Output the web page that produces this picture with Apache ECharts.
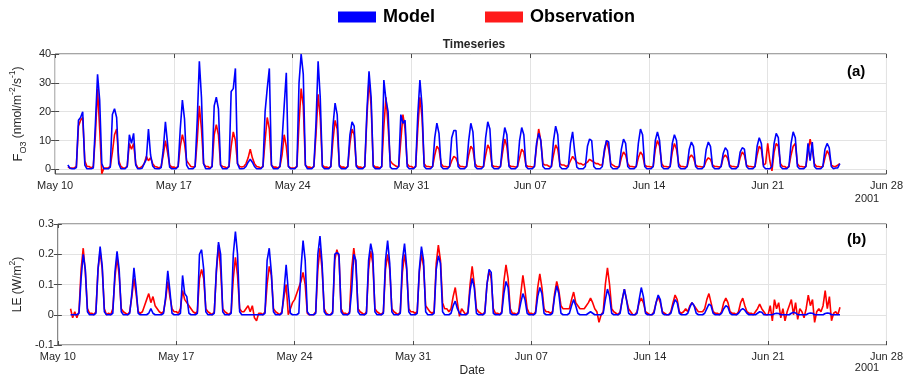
<!DOCTYPE html>
<html><head><meta charset="utf-8">
<script src="https://cdn.jsdelivr.net/npm/echarts@6/dist/echarts.min.js"></script>
<style>html,body{margin:0;padding:0;background:#fff}#c{width:906px;height:381px}</style>
</head><body><div id="c"></div>
<script>
// x tick labels (days since May 10, every 7 days)
const tickLabels = ['May 10','May 17','May 24','May 31','Jun 07','Jun 14','Jun 21','Jun 28'];
const yearLabel = '2001';
// sample hours within each day
const dayHours = [0,3,6,9,12,15,18,21];
const o3Ticks = [0,10,20,30,40];

// (a) O3 flux, Model - one row per day (May 10 .. Jun 25)
const o3Model = [
[1.5,0.4],
[0.2,0.2,0.6,17,18,20,1.5,0.2],
[0.2,0.2,0.5,16,33,24,2,0.2],
[0.2,0.2,0.8,19,21,18,2,0.2],
[0.2,0.2,1,12,9,12.5,1.5,0.2],
[0.2,0.4,2,3.5,14,5,1.2,0.3],
[0.2,0.2,0.6,7,16.5,9,0.8,0.2],
[0.2,0.2,1,14,24,17.5,1.5,0.2],
[0.2,0.2,1,17,37.5,25,2,0.2],
[0.2,0.2,1,22,25,21,1.5,0.2],
[0.2,0.2,1,27,28,35,2,0.2],
[0.2,0.3,1,2.5,3.5,2.5,1,0.2],
[0.2,0.2,1,20,28,35,1.5,0.2],
[0.2,0.2,1,10,22,33.5,1,0.2],
[0.2,0.2,1,30,40,33,1.5,0.2],
[0.2,0.2,1,16,37.5,25,1,0.2],
[0.2,0.2,1,15,23,19,1,0.2],
[0.2,0.2,1,12,16.5,15,1,0.2],
[0.2,0.2,1,20,34,25,1,0.2],
[0.2,0.2,1,31,24,20,0.8,0.2],
[0.2,0.2,1,19,16,17,1,0.2],
[0.2,0.2,1,19,31,22,1,0.2],
[0.2,0.2,1,11,16,12.5,1,0.2],
[0.2,0.2,1,11,13.5,13.5,1,0.2],
[0.2,0.2,1,10,16,13,1,0.2],
[0.2,0.2,1,11,16.5,14,1,0.2],
[0.2,0.2,1,9,14.5,12,1,0.2],
[0.2,0.2,1,10,14.5,12,1,0.2],
[0.2,0.2,1,9,12.5,10,1,0.2],
[0.2,0.2,1,10,15,12,1,0.2],
[0.2,0.2,1,9,13,6,0.8,0.2],
[0.2,0.2,1,8,10.5,10,1,0.2],
[0.2,0.2,1,7,10,9.5,1,0.2],
[0.2,0.2,1,7,10.5,9,1,0.2],
[0.2,0.2,1,9,14,12,1,0.2],
[0.2,0.2,1,10,13,10,1,0.2],
[0.2,0.2,1,9,12,10,1,0.2],
[0.2,0.2,1,7,9.5,8,1,0.2],
[0.2,0.2,1,7,9.5,8,1,0.2],
[0.2,0.2,1,5.5,7.5,6.5,1,0.2],
[0.2,0.2,1,6,7.5,7,1,0.2],
[0.2,0.2,1,8,11,9,1,0.2],
[0.2,0.2,1,9,12.5,11,1,0.2],
[0.2,0.2,1,9,13,11,1,0.2],
[0.2,0.2,1,9,3,9.5,1,0.2],
[0.2,0.2,1,7,9,7.5,1,0.2],
[0.5,0.5,2]
];
// (a) O3 flux, Observation
const o3Obs = [
[0.8,0.5],
[0.5,0.5,1,15,17,18,3,1],
[1,0.5,1,12,28,14,-1.5,0.5],
[0.5,0.5,1,6,12,14,3,1],
[0.5,0.5,1,9,7,9,2,0.5],
[0.5,1,2,4.5,3,4,2,1],
[0.8,0.5,1,5,10,6,1.5,0.8],
[0.8,0.5,1,8,12,9,3,2],
[1,0.8,1,10,22,14,2,1],
[1,0.5,1,12,15.5,12,1.5,1],
[0.8,0.5,1,8,13,10,2,1],
[0.8,1,2,4,7,4,2,1],
[0.8,0.5,1,10,18,14,1.5,0.8],
[0.8,0.5,1,5,12,8,1,0.5],
[0.5,0.5,1,16,28,22,1.5,0.8],
[0.8,0.5,1,12,26,18,1.5,0.8],
[0.8,0.5,1,10,17,14,1.5,0.8],
[0.8,0.5,1,9,14,12,1.5,0.8],
[0.8,0.5,1,18,31,22,1.5,0.8],
[0.8,0.5,1,15,25,15,3,2],
[1.5,1,1,10,19,14,2,1],
[1,0.5,1,14,25,18,2,1],
[1,0.8,1,5,8,7,2,1],
[1,0.8,1,3,4.5,4,2,1],
[1,0.8,1,5,8,7,2,1],
[1,0.8,1,5,8.5,7,1.5,1],
[1,0.8,1,6,10.5,8,1.5,1],
[1,0.8,1,4,7,6,1.5,1],
[1,0.8,1,8,14,10,2,1.5],
[1.5,1,1,5,8.5,7,2,1.5],
[1.5,1,1.5,3,4.5,3.5,2.5,2],
[2,1.5,2,2.5,3.5,3,2.5,2],
[2,1.5,1.5,6,10,7,2,1.5],
[1,0.8,1,4,6,5,2,1],
[1,0.8,1,4,6,5,1.5,1],
[1,0.8,1,7,10,8,2,1],
[1,0.8,1,6,9,7,2,1],
[1,0.8,1,4,5,4,1.5,1],
[1,0.8,1,3,4,3.5,1.5,1],
[1,0.8,1,4,5,4,1.5,1],
[1,0.8,1,4,6,5,1.5,1],
[1,0.8,1,5,8,7,1.5,2],
[9,3,-0.5,6,9,8,2,1],
[1,0.5,1,5,8,9,2,1],
[1,0.8,1,6,10.5,7,2,1],
[1,0.8,1,4,6.5,5,1.5,1],
[1,1.5,2]
];
// (b) LE, Model
const leModel = [
[0,0],
[0,0,0.005,0.12,0.2,0.15,0.01,0],
[0,0,0.005,0.15,0.225,0.16,0.01,0],
[0,0,0.005,0.14,0.21,0.15,0.01,0],
[0,0,0.005,0.07,0.155,0.09,0.005,0],
[0,0,0,0.005,0.02,0.005,0,0],
[0,0,0.005,0.06,0.145,0.08,0.005,0],
[0,0,0.005,0.13,0.07,0.06,0.005,0],
[0,0,0.005,0.2,0.215,0.15,0.01,0],
[0,0,0.005,0.15,0.24,0.2,0.01,0],
[0,0,0.005,0.2,0.275,0.2,0.01,0],
[0,0,0,0,0,0,0,0],
[0,0,0.005,0.18,0.22,0.14,0.01,0],
[0,0,0.005,0.08,0.165,0.08,0.005,0],
[0,0,0.005,0.15,0.245,0.18,0.01,0],
[0,0,0.005,0.2,0.26,0.17,0.01,0],
[0,0,0.005,0.2,0.205,0.2,0.01,0],
[0,0,0.005,0.08,0.2,0.18,0.01,0],
[0,0,0.005,0.18,0.235,0.2,0.01,0],
[0,0,0.005,0.18,0.245,0.17,0.01,0],
[0,0,0.005,0.18,0.235,0.16,0.01,0],
[0,0,0.005,0.15,0.225,0.18,0.01,0],
[0,0,0.005,0.15,0.195,0.17,0.01,0],
[0,0,0.005,0.03,0.045,0.02,0.005,0],
[0,0,0.005,0.08,0.12,0.09,0.005,0],
[0,0,0.005,0.1,0.15,0.14,0.005,0],
[0,0,0.005,0.07,0.11,0.09,0.005,0],
[0,0,0.005,0.04,0.07,0.05,0.005,0],
[0,0,0.005,0.06,0.09,0.07,0.005,0],
[0,0,0.005,0.06,0.095,0.07,0.005,0],
[0,0,0.005,0.03,0.05,0.03,0.005,0],
[0,0,0,0.005,0.01,0.005,0,0],
[0,0,0.005,0.05,0.085,0.06,0.005,0],
[0,0,0.005,0.05,0.085,0.05,0.005,0],
[0,0,0.005,0.05,0.09,0.06,0.005,0],
[0,0,0.005,0.04,0.065,0.05,0.005,0],
[0,0,0.005,0.03,0.05,0.04,0.005,0],
[0,0,0.005,0.025,0.04,0.03,0.005,0],
[0,0,0.005,0.02,0.035,0.03,0.005,0],
[0,0,0.005,0.02,0.03,0.025,0.005,0],
[0,0,0.005,0.015,0.02,0.015,0.005,0],
[0,0,0,0.005,0.01,0.008,0,0],
[0,0,0,0.003,0.005,0.004,0,0],
[0,0,0,0.005,0.008,0.006,0,0],
[0,0,0,0.004,0.006,0.005,0,0],
[0,0,0,0.004,0.006,0.005,0,0],
[0,0,0]
];
// (b) LE, Observation
const leObs = [
[0.02,-0.01],
[0.01,-0.01,0.01,0.15,0.22,0.14,0.02,0.005],
[0.005,0,0.01,0.15,0.21,0.15,0.02,0],
[0.005,0,0.02,0.12,0.19,0.13,0.02,0.01],
[0.005,0,0.01,0.06,0.12,0.07,0.01,0.005],
[0.01,0.03,0.05,0.07,0.04,0.06,0.03,0.02],
[0.01,0.005,0.01,0.05,0.11,0.06,0.02,0.01],
[0.01,0.005,0.02,0.08,0.05,0.04,0.03,0.02],
[0.01,0.005,0.01,0.12,0.15,0.12,0.02,0.01],
[0.005,0,0.01,0.14,0.23,0.15,0.02,0.01],
[0.005,0,0.01,0.12,0.19,0.13,0.02,0.01],
[0.01,0.02,0.03,0.01,0.03,-0.01,-0.02,0.005],
[0.005,0,0.01,0.1,0.16,0.13,0.02,0.01],
[0.005,0,0.01,0.06,0.1,0,0.02,0.04],
[0.05,0.07,0.09,0.11,0.14,0.1,0.005,0],
[0,0,0.01,0.15,0.22,0.15,0.02,0.005],
[0,0,0.01,0.18,0.215,0.19,0.02,0.005],
[0.005,0,0.01,0.15,0.22,0.16,0.02,0.01],
[0.005,0,0.01,0.15,0.21,0.17,0.02,0.01],
[0.005,0,0.01,0.15,0.2,0.15,0.02,0.01],
[0.005,0,0.01,0.14,0.2,0.15,0.02,0.01],
[0.01,0.005,0.01,0.14,0.2,0.16,0.03,0.02],
[0.01,0.005,0.01,0.17,0.23,0.18,0.04,0.02],
[0.02,0.01,0.02,0.06,0.09,0.04,-0.005,0.02],
[0.01,0,0.01,0.1,0.16,0.1,0.02,0.01],
[0.005,0,0.01,0.1,0.145,0.12,0.02,0.005],
[0.005,0,0.01,0.11,0.165,0.12,0.02,0.005],
[0.005,0,0.01,0.07,0.13,0.08,0.02,0.005],
[0.005,0,0.01,0.09,0.135,0.09,0.02,0.01],
[0.01,0.005,0.01,0.07,0.11,0.08,0.03,0.02],
[0.02,0.02,0.02,0.05,0.075,0.04,0.03,0.02],
[0.02,0.02,0.03,0.04,0.055,0.04,0.02,0.01],
[-0.025,0,0.01,0.1,0.155,0.1,0.02,0.01],
[0.005,0,0.01,0.05,0.085,0.05,0.02,0.01],
[0,0,0.01,0.04,0.055,0.04,0.01,0.005],
[0,0,0.01,0.04,0.06,0.04,0.01,0.005],
[0,0,0.01,0.04,0.065,0.05,0.01,0.005],
[0.01,0.02,0.01,0.03,0.04,0.03,0.02,0.01],
[0.01,0.01,0.02,0.05,0.07,0.04,0.01,0.005],
[0.005,0,0.01,0.04,0.055,0.04,0.01,0.005],
[0.005,0,0.01,0.04,0.055,0.03,0.01,0.005],
[0.005,0,0.01,0.02,0.035,0.02,0.01,0],
[0,0.03,-0.02,0.05,0.02,0.04,-0.01,0.02],
[-0.02,0.01,0.03,0.05,0,0.04,-0.015,0.02],
[0.01,-0.01,0.02,0.065,0.03,0.05,-0.025,0.01],
[0.02,0.01,0.03,0.08,0.02,0.06,-0.02,0.005],
[0.01,0,0.025]
];

function toPoints(rows){
  const pts = [];
  rows.forEach((row, d) => {
    const off = d === 0 ? dayHours.length - row.length : 0;
    row.forEach((v, k) => pts.push([d + dayHours[k + off] / 24, v]));
  });
  return pts;
}

const FONT = 'Liberation Sans, Arial, Helvetica, sans-serif';
const TXT = '#262626';
const BOX = '#4a4a4a';
const GRIDC = '#e3e3e3';
const LW = 1.6;

function xAxes(gridIndex, withName){
  const bottom = {
    type: 'value', gridIndex, min: 0, max: 49, interval: 7, position: 'bottom',
    axisLine: {show: false, onZero: false},
    axisTick: {show: true, inside: true, length: 4, lineStyle: {color: BOX}},
    axisLabel: {margin: 6, color: TXT, fontSize: 11, fontFamily: FONT,
      formatter: v => tickLabels[Math.round(v / 7)] || ''},
    splitLine: {show: true, lineStyle: {color: GRIDC, width: 1}}
  };
  if (withName) {
    Object.assign(bottom, {name: 'Date', nameLocation: 'middle', nameGap: 20,
      nameTextStyle: {color: TXT, fontSize: 12, fontFamily: FONT}});
  }
  const top = {
    type: 'value', gridIndex, min: 0, max: 49, interval: 7, position: 'top',
    axisLine: {show: false, onZero: false},
    axisTick: {show: true, inside: true, length: 4, lineStyle: {color: BOX}},
    axisLabel: {show: false}, splitLine: {show: false}
  };
  return [bottom, top];
}

const richName = {
  n: {fontSize: 12, fontFamily: FONT, color: TXT, lineHeight: 20},
  b: {fontSize: 13, fontFamily: FONT, color: TXT, lineHeight: 20},
  s: {fontSize: 9, fontFamily: FONT, color: TXT, verticalAlign: 'bottom', lineHeight: 12},
  p: {fontSize: 8.5, fontFamily: FONT, color: TXT, verticalAlign: 'top', lineHeight: 11}
};

const option = {
  animation: false,
  backgroundColor: '#fff',
  textStyle: {fontFamily: FONT},
  title: {text: 'Timeseries', left: 469, top: 34, textAlign: 'center',
    textStyle: {fontSize: 12, fontWeight: 'bold', color: TXT, fontFamily: FONT}},
  legend: {
    data: ['Model', 'Observation'], left: 333, top: 3, icon: 'rect',
    itemWidth: 38, itemHeight: 11, itemGap: 50,
    textStyle: {fontSize: 18, fontWeight: 'bold', color: '#000', fontFamily: FONT, padding: [0, 0, 0, 2]}
  },
  grid: [
    {left: 50, top: 54, width: 838, height: 120, show: true, borderColor: BOX, borderWidth: 1, backgroundColor: '#fff'},
    {left: 50, top: 224, width: 838, height: 121, show: true, borderColor: BOX, borderWidth: 1, backgroundColor: '#fff'}
  ],
  xAxis: [...xAxes(0, false), ...xAxes(1, true)],
  yAxis: [
    {type: 'value', gridIndex: 0, min: -1.6, max: 40, position: 'left',
      name: '{b|F}{s|O3}{n| (nmol/m}{p|-2}{n|/s}{p|-1}{n|)}', nameLocation: 'middle', nameGap: 23,
      nameTextStyle: {rich: richName},
      axisLine: {show: false},
      axisTick: {show: true, inside: true, length: 4, customValues: o3Ticks, lineStyle: {color: BOX}},
      axisLabel: {customValues: o3Ticks, margin: 4, color: TXT, fontSize: 11, fontFamily: FONT,
        formatter: v => (Math.abs(v / 10 - Math.round(v / 10)) < 1e-6 ? String(v) : '')},
      splitLine: {show: true, lineStyle: {color: GRIDC, width: 1}}},
    {type: 'value', gridIndex: 0, min: -1.6, max: 40, position: 'right',
      axisLine: {show: false},
      axisTick: {show: true, inside: true, length: 4, customValues: o3Ticks, lineStyle: {color: BOX}},
      axisLabel: {show: false}, splitLine: {show: false}},
    {type: 'value', gridIndex: 1, min: -0.1, max: 0.3, interval: 0.1, position: 'left',
      name: '{n|LE (W/m}{p|2}{n|)}', nameLocation: 'middle', nameGap: 27,
      nameTextStyle: {rich: richName},
      axisLine: {show: false},
      axisTick: {show: true, inside: true, length: 4, lineStyle: {color: BOX}},
      axisLabel: {margin: 4, color: TXT, fontSize: 11, fontFamily: FONT},
      splitLine: {show: true, lineStyle: {color: GRIDC, width: 1}}},
    {type: 'value', gridIndex: 1, min: -0.1, max: 0.3, interval: 0.1, position: 'right',
      axisLine: {show: false},
      axisTick: {show: true, inside: true, length: 4, lineStyle: {color: BOX}},
      axisLabel: {show: false}, splitLine: {show: false}}
  ],
  graphic: [
    {type: 'text', left: 847, top: 64, style: {text: '(a)', font: 'bold 15px ' + FONT, fill: '#000'}},
    {type: 'text', left: 847, top: 232, style: {text: '(b)', font: 'bold 15px ' + FONT, fill: '#000'}},
    {type: 'text', x: 867, y: 199, style: {text: yearLabel, font: '11px ' + FONT, fill: TXT, align: 'center', verticalAlign: 'middle'}},
    {type: 'text', x: 867, y: 368, style: {text: yearLabel, font: '11px ' + FONT, fill: TXT, align: 'center', verticalAlign: 'middle'}}
  ],
  series: [
    {name: 'Observation', type: 'line', xAxisIndex: 0, yAxisIndex: 0, data: toPoints(o3Obs),
      showSymbol: false, symbol: 'none', lineStyle: {color: '#ff0000', width: LW}, itemStyle: {color: '#ff1a1a'}},
    {name: 'Model', type: 'line', xAxisIndex: 0, yAxisIndex: 0, data: toPoints(o3Model),
      showSymbol: false, symbol: 'none', lineStyle: {color: '#0000ff', width: LW}, itemStyle: {color: '#0000ff'}},
    {name: 'Observation', type: 'line', xAxisIndex: 2, yAxisIndex: 2, data: toPoints(leObs),
      showSymbol: false, symbol: 'none', lineStyle: {color: '#ff0000', width: LW}, itemStyle: {color: '#ff1a1a'}},
    {name: 'Model', type: 'line', xAxisIndex: 2, yAxisIndex: 2, data: toPoints(leModel),
      showSymbol: false, symbol: 'none', lineStyle: {color: '#0000ff', width: LW}, itemStyle: {color: '#0000ff'}}
  ]
};
const chart = echarts.init(document.getElementById('c'), null, {renderer: 'canvas'});
chart.setOption(option);
</script>
</body></html>
